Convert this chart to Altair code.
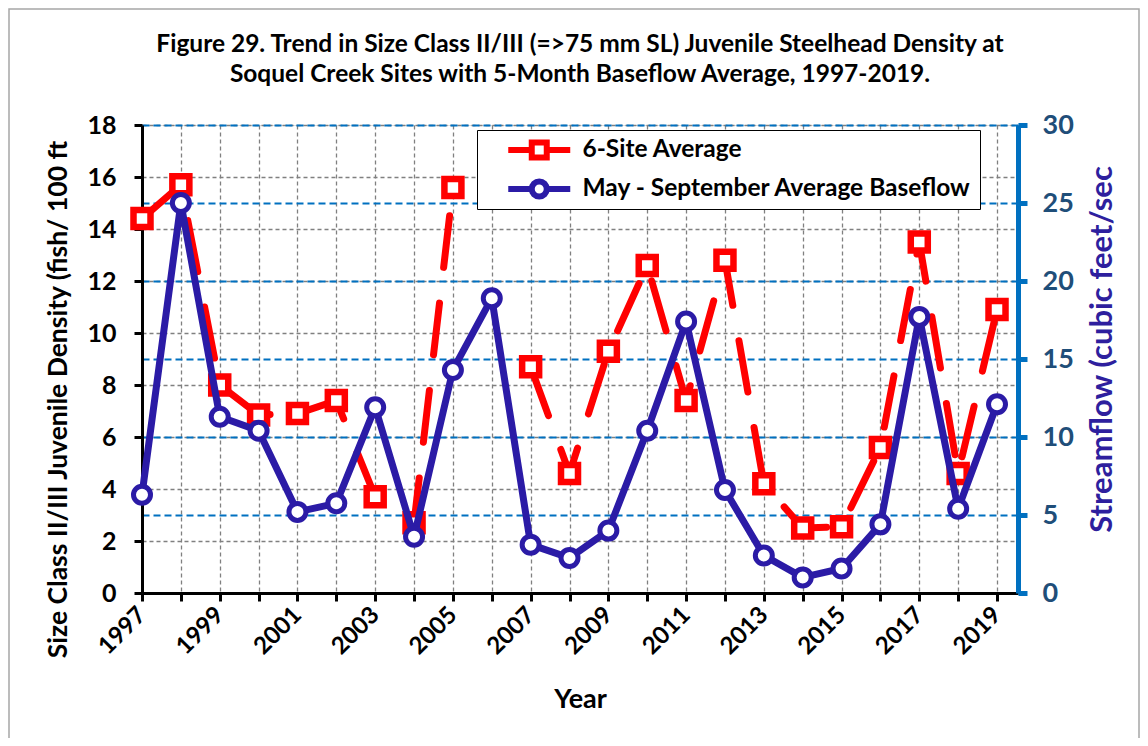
import altair as alt
import pandas as pd

# ---- data ----
years = list(range(1997, 2020))
density = [14.4, 15.7, 8.0, 6.85, 6.9, 7.4, 3.7, 2.7, 15.6, None, 8.7, 4.6,
           9.3, 12.6, 7.4, 12.8, 4.2, 2.5, 2.55, 5.6, 13.5, 4.6, 10.9]
baseflow = [6.3, 25.0, 11.3, 10.4, 5.2, 5.75, 11.9, 3.6, 14.3, 18.9, 3.1, 2.25,
            4.0, 10.4, 17.4, 6.6, 2.4, 1.0, 1.57, 4.4, 17.7, 5.4, 12.1]
series = ["6-Site Average", "May - September Average Baseflow"]
series_colors = ["#FF0000", "#2B1BA6"]
left_ticks = list(range(0, 19, 2))
right_ticks = list(range(0, 31, 5))
title_lines = [
    "Figure 29. Trend in Size Class II/III (=>75 mm SL) Juvenile Steelhead Density at",
    "Soquel Creek Sites with 5-Month Baseflow Average, 1997-2019.",
]

FONT = "Lato"
RED, BLUE = series_colors

red_df = pd.DataFrame({"year": years, "density": density})
red_df["seg"] = red_df["density"].isna().cumsum()
red_df = red_df.dropna()
blue_df = pd.DataFrame({"year": years, "flow": baseflow})
leg_df = pd.DataFrame({"series": series})
frame_df = pd.DataFrame({"a": [0]})

x_axis = alt.Axis(
    values=years, format="d",
    labelExpr="datum.value % 2 == 1 ? datum.label : ''",
    labelAngle=-45, labelAlign="right", labelBaseline="middle",
    labelFont=FONT, labelFontSize=24, labelFontWeight="bold", labelColor="black",
    labelPadding=10, labelOverlap=False,
    domainColor="black", domainWidth=3, tickColor="black", tickWidth=3, tickSize=8,
    grid=True, gridColor="#808080", gridDash=[4, 3], gridWidth=1.3,
    title="Year", titleFont=FONT, titleFontSize=27, titleFontWeight="bold",
    titleColor="black", titleX=438, titleY=106, titleAlign="center", titleBaseline="middle",
)
X = alt.X("year:Q", scale=alt.Scale(domain=[1997, 2019.54], nice=False, zero=False), axis=x_axis)

left_axis = alt.Axis(
    values=left_ticks,
    labelFont=FONT, labelFontSize=25, labelFontWeight="bold", labelColor="black",
    labelPadding=18,
    domainColor="black", domainWidth=3, tickColor="black", tickWidth=3, tickSize=8,
    grid=True, gridColor="#808080", gridDash=[4, 3], gridWidth=1.3,
    title="Size Class II/III  Juvenile Density (fish/ 100 ft",
    titleFont=FONT, titleFontSize=26.5, titleFontWeight="bold", titleColor="black",
    titleAngle=270, titleX=-84, titleY=274, titleAlign="center", titleBaseline="middle",
)
right_axis = alt.Axis(
    orient="right", values=right_ticks,
    labelFont=FONT, labelFontSize=27, labelFontWeight="bold", labelColor="#1F4E79",
    labelPadding=15,
    domainColor="#0070C0", domainWidth=5, tickColor="#0070C0", tickWidth=5, tickSize=9,
    grid=True, gridColor="#0070C0", gridDash=[7, 4], gridWidth=1.8,
    title="Streamflow (cubic feet/sec",
    titleFont=FONT, titleFontSize=31, titleFontWeight="bold", titleColor="#2E1F9E",
    titleAngle=270, titleX=84, titleY=224, titleAlign="center", titleBaseline="middle",
)

YL = alt.Y("density:Q", scale=alt.Scale(domain=[0, 18], nice=False), axis=left_axis)
YR = alt.Y("flow:Q", scale=alt.Scale(domain=[0, 30], nice=False), axis=right_axis)

red_line = alt.Chart(red_df).mark_line(
    color=RED, strokeWidth=7, strokeDash=[52, 36], strokeCap="round", strokeJoin="round"
).encode(x=X, y=YL, detail="seg:N")
red_pts = alt.Chart(red_df).mark_point(
    shape="square", size=289, filled=True, fill="white", stroke=RED,
    strokeWidth=6.5, opacity=1
).encode(x=X, y=YL)

blue_line = alt.Chart(blue_df).mark_line(
    color=BLUE, strokeWidth=7, strokeCap="round", strokeJoin="round"
).encode(x=X, y=YR)
blue_pts = alt.Chart(blue_df).mark_point(
    shape="circle", size=289, filled=True, fill="white", stroke=BLUE,
    strokeWidth=5, opacity=1
).encode(x=X, y=YR)

# legend symbols: a short line with the series marker in its middle (unit = 5 px)
sq_path = "M-6.2,0L-1.5,0M1.5,0L6.2,0M-1.5,-1.5L1.5,-1.5L1.5,1.5L-1.5,1.5Z"
k = 0.828
ci_path = ("M-6.2,0L-1.5,0M1.5,0L6.2,0"
           f"M-1.5,0C-1.5,-{k} -{k},-1.5 0,-1.5C{k},-1.5 1.5,-{k} 1.5,0"
           f"C1.5,{k} {k},1.5 0,1.5C-{k},1.5 -1.5,{k} -1.5,0Z")

NBSP = "\u00a0"
legend = alt.Legend(
    title=None, orient="none", legendX=335, legendY=5, direction="vertical",
    fillColor="white", strokeColor="black", padding=8, rowPadding=14, clipHeight=24,
    symbolSize=100, symbolOffset=42, labelOffset=31, symbolStrokeWidth=6,
    labelFont=FONT, labelFontSize=24.5, labelFontWeight="bold", labelColor="black",
    labelLimit=0, labelExpr="datum.label + '" + NBSP * 7 + "'",
)
legend_helper = alt.Chart(leg_df).mark_point(
    filled=True, fill="white", strokeWidth=6, opacity=1
).encode(
    x=alt.value(-2000), y=alt.value(200),
    stroke=alt.Stroke("series:N", scale=alt.Scale(domain=series, range=series_colors), legend=legend),
    shape=alt.Shape("series:N", scale=alt.Scale(domain=series, range=[sq_path, ci_path]), legend=legend),
)

frame = alt.Chart(frame_df).mark_rect(
    fill="transparent", stroke="#A6A6A6", strokeWidth=1.5
).encode(
    x=alt.value(-133), x2=alt.value(997), y=alt.value(-116), y2=alt.value(700)
)

left = alt.layer(frame, red_line, red_pts)
right = alt.layer(blue_line, blue_pts, legend_helper)

chart = alt.layer(left, right).resolve_scale(y="independent").properties(
    width=876, height=468,
    autosize=alt.AutoSizeParams(type="none"),
    padding={"left": 134, "top": 117, "right": 122, "bottom": 145},
    title=alt.TitleParams(
        text=title_lines, font=FONT, fontSize=24.5, fontWeight="bold", color="black",
        anchor="middle", frame="group", offset=-79, lineHeight=30,
    ),
).configure_view(
    fill="#ECEAE0", stroke="transparent"
).configure_legend(
    strokeWidth=2.5
).configure(background="white")

chart.save("out.html", embed_options={"renderer": "svg", "actions": False})
